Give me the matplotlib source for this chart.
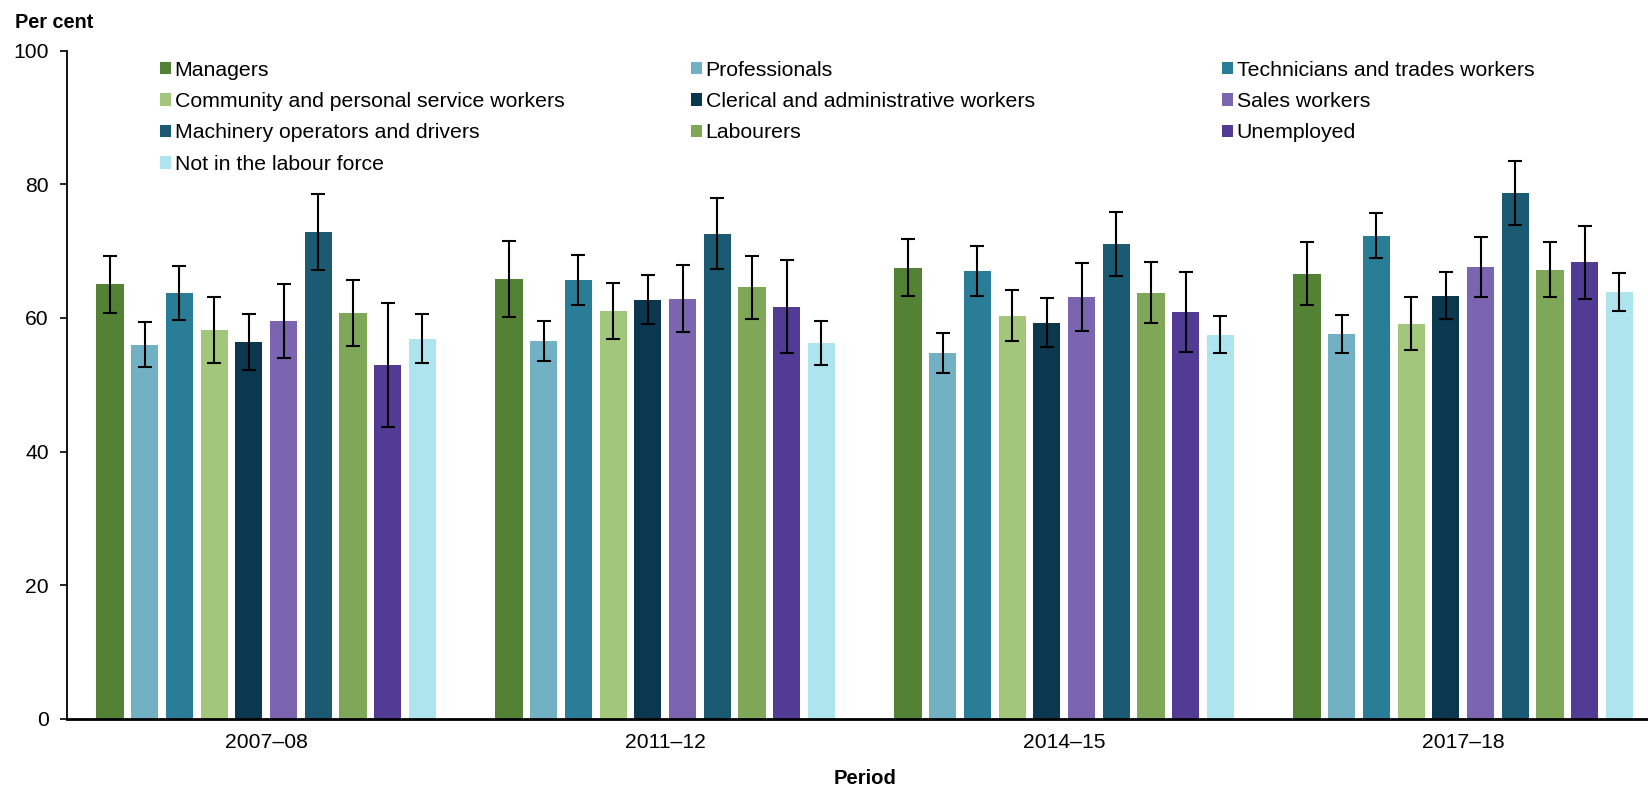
import numpy as np
import matplotlib
matplotlib.use("Agg")
import matplotlib.pyplot as plt
from matplotlib.patches import Patch

plt.rcParams["font.family"] = ["Liberation Sans", "DejaVu Sans"]

periods = ["2007–08", "2011–12", "2014–15", "2017–18"]
groups = ["Managers", "Professionals", "Technicians and trades workers",
          "Community and personal service workers", "Clerical and administrative workers",
          "Sales workers", "Machinery operators and drivers", "Labourers",
          "Unemployed", "Not in the labour force"]
colors = ["#548235", "#71b1c3", "#2a7d97", "#a2c77b", "#0b374f",
          "#7b64b0", "#1a5a73", "#7ea857", "#513b94", "#aee4ee"]

# per cent, one row per group, one column per period
values = np.array([
    [65.0, 65.8, 67.5, 66.6],
    [56.0, 56.6, 54.7, 57.6],
    [63.7, 65.7, 67.0, 72.3],
    [58.2, 61.0, 60.3, 59.1],
    [56.4, 62.7, 59.3, 63.3],
    [59.5, 62.9, 63.1, 67.6],
    [72.9, 72.6, 71.0, 78.7],
    [60.8, 64.6, 63.7, 67.2],
    [52.9, 61.7, 60.9, 68.3],
    [56.9, 56.2, 57.4, 63.9],
])
ci_low = np.array([
    [60.7, 60.1, 63.3, 61.9],
    [52.6, 53.6, 51.7, 54.8],
    [59.7, 62.0, 63.3, 68.9],
    [53.2, 56.8, 56.6, 55.2],
    [52.2, 59.1, 55.6, 59.8],
    [54.0, 57.9, 58.1, 63.2],
    [67.2, 67.3, 66.2, 73.9],
    [55.8, 59.8, 59.2, 63.1],
    [43.7, 54.8, 54.9, 62.8],
    [53.3, 53.0, 54.7, 61.1],
])
ci_high = np.array([
    [69.3, 71.5, 71.8, 71.3],
    [59.4, 59.6, 57.8, 60.4],
    [67.7, 69.4, 70.8, 75.7],
    [63.1, 65.2, 64.1, 63.1],
    [60.6, 66.4, 63.0, 66.8],
    [65.0, 67.9, 68.2, 72.1],
    [78.6, 78.0, 75.9, 83.4],
    [65.7, 69.3, 68.3, 71.3],
    [62.2, 68.6, 66.9, 73.7],
    [60.6, 59.5, 60.3, 66.7],
])

W, H = 1648, 788
fig = plt.figure(figsize=(W / 100, H / 100), dpi=100)
x0, x1 = 66.7, 1648
y0, y1 = 719, 50.5
ax = fig.add_axes([x0 / W, 1 - y0 / H, (x1 - x0) / W, (y0 - y1) / H])

x = np.arange(len(periods))
step, bw = 0.087, 0.068
offsets = (np.arange(len(groups)) - (len(groups) - 1) / 2) * step
for i, (g, c) in enumerate(zip(groups, colors)):
    xs = x + offsets[i]
    ax.bar(xs, values[i], width=bw, color=c, linewidth=0, zorder=2)
    err = np.vstack([values[i] - ci_low[i], ci_high[i] - values[i]])
    ax.errorbar(xs, values[i], yerr=err, fmt="none", ecolor="black",
                elinewidth=1.5, capsize=5, capthick=1.5, zorder=3)

ax.set_xlim(-0.5, -0.5 + (x1 - x0) / 399)
ax.set_ylim(0, 100)
ax.set_yticks(np.arange(0, 101, 20))
ax.set_xticks(x)
ax.set_xticklabels(periods)
ax.tick_params(axis="y", labelsize=15.2, length=4.8, width=1.2, pad=8)
ax.tick_params(axis="x", labelsize=15.2, length=0, pad=10)
for s in ["top", "right"]:
    ax.spines[s].set_visible(False)
ax.spines["left"].set_linewidth(1.3)
ax.spines["bottom"].set_linewidth(2)

fig.text(15 / W, 1 - 22 / H, "Per cent", fontsize=14.3, fontweight="bold", va="center")
fig.text(865 / W, 1 - 779 / H, "Period", fontsize=14.6,
         fontweight="bold", ha="center", va="center")

# legend laid out as three separate columns
handles = [Patch(facecolor=c, edgecolor="none") for c in colors]
cols = [[0, 3, 6, 9], [1, 4, 7], [2, 5, 8]]
col_x = [160, 691, 1222]
for idx, cx in zip(cols, col_x):
    fig.legend([handles[k] for k in idx], [groups[k] for k in idx],
               loc="upper left", bbox_to_anchor=(cx / W, 1 - 60.5 / H),
               frameon=False, fontsize=15.3, handlelength=0.54,
               handleheight=0.54, handletextpad=0.15, labelspacing=0.585,
               borderaxespad=0, borderpad=0)

fig.savefig("out.png", dpi=100)
